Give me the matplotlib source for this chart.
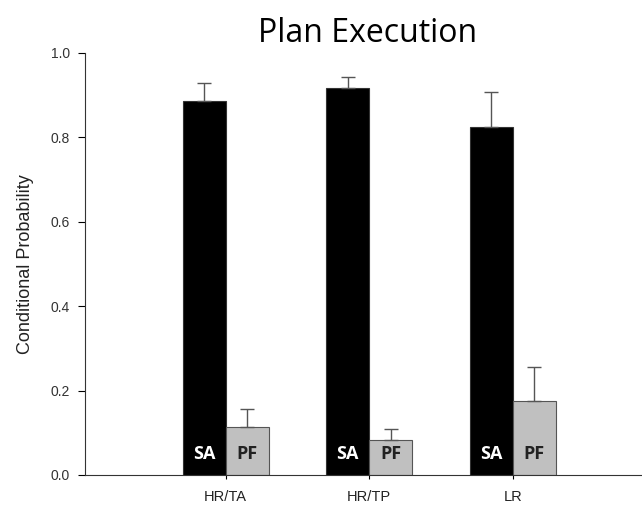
import matplotlib.pyplot as plt
import numpy as np

# data
groups = ['HR/TA', 'HR/TP', 'LR']
sa_vals = [0.887, 0.918, 0.825]
sa_err = [0.041, 0.026, 0.082]
pf_vals = [0.114, 0.083, 0.175]
pf_err = [0.042, 0.026, 0.082]

fig = plt.figure(figsize=(6.42, 5.09), dpi=100)
ax = fig.add_axes([0.1324, 0.0668, 0.8676, 0.8292])

x = np.arange(len(groups))
w = 0.3
ax.bar(x - w/2, sa_vals, w, color='black', edgecolor='#333333', linewidth=0.8)
ax.bar(x + w/2, pf_vals, w, color='#c0c0c0', edgecolor='#555555', linewidth=0.8)
ax.errorbar(x - w/2, sa_vals, yerr=[np.zeros(3), sa_err], fmt='none',
            ecolor='#555555', elinewidth=1, capsize=5, capthick=1)
ax.errorbar(x + w/2, pf_vals, yerr=[np.zeros(3), pf_err], fmt='none',
            ecolor='#555555', elinewidth=1, capsize=5, capthick=1)

for xi in x:
    ax.text(xi - w/2, 0.05, 'SA', color='white', ha='center', va='center',
            fontsize=13, fontweight='bold', family='Open Sans')
    ax.text(xi + w/2, 0.05, 'PF', color='#222222', ha='center', va='center',
            fontsize=13, fontweight='bold', family='Open Sans')

ax.set_xlim(-0.98, 2.9)
ax.set_ylim(0, 1.0)
ax.set_xticks(x)
ax.set_xticklabels(groups, fontsize=10.5, family='Liberation Sans', color='#222222')
ax.set_yticks([0.0, 0.2, 0.4, 0.6, 0.8, 1.0])
ax.set_yticklabels(['0.0', '0.2', '0.4', '0.6', '0.8', '1.0'], fontsize=10,
                   family='Liberation Sans', color='#333333')
ax.tick_params(axis='y', length=5, width=0.8, pad=6)
ax.tick_params(axis='x', length=3, width=0.8, pad=8)
ax.spines['top'].set_visible(False)
ax.spines['right'].set_visible(False)
ax.spines['left'].set_color('#333333')
ax.spines['bottom'].set_color('#333333')
ax.set_ylabel('Conditional Probability', fontsize=13, family='Liberation Sans',
              color='#222222', labelpad=12)

fig.text(0.572, 0.934, 'Plan Execution', fontsize=23, family='Open Sans',
         ha='center', va='center')

fig.savefig('out.png', dpi=100)
